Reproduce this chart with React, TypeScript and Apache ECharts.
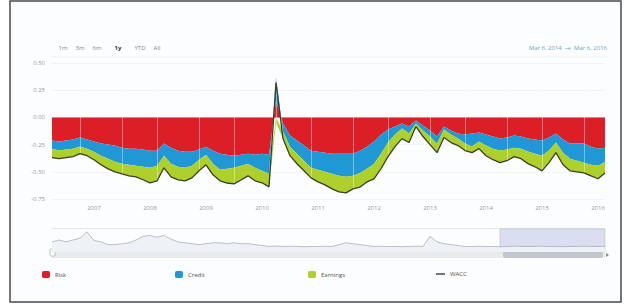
import React, { useEffect, useRef } from "react";
import * as echarts from "echarts";

const START_YEAR = 2006.25;
const STEP_YEARS = 0.125;
const rangeButtons = ["1m", "3m", "6m", "1y", "YTD", "All"];
const selectedButton = "1y";
const dateFrom = "Mar 6, 2014";
const dateTo = "Mar 6, 2016";
const selectionRange = [2014.3, 2016.1];

const risk = [
  -0.213, -0.222, -0.213, -0.204, -0.185, -0.204, -0.222, -0.241, -0.25, -0.259,
  -0.278, -0.287, -0.287, -0.296, -0.306, -0.306, -0.241, -0.278, -0.306, -0.315,
  -0.315, -0.296, -0.269, -0.306, -0.333, -0.343, -0.352, -0.343, -0.333, -0.343,
  -0.333, -0.343, 0.15, -0.056, -0.167, -0.213, -0.259, -0.306, -0.315, -0.324,
  -0.333, -0.333, -0.333, -0.333, -0.306, -0.269, -0.222, -0.157, -0.111, -0.083,
  -0.056, -0.083, -0.028, -0.074, -0.12, -0.176, -0.083, -0.12, -0.148, -0.157,
  -0.148, -0.139, -0.157, -0.176, -0.194, -0.185, -0.167, -0.176, -0.194, -0.204,
  -0.213, -0.185, -0.148, -0.204, -0.241, -0.241, -0.241, -0.269, -0.287, -0.278,
];
const credit = [
  -0.074, -0.083, -0.083, -0.083, -0.083, -0.083, -0.093, -0.111, -0.13, -0.148,
  -0.148, -0.148, -0.157, -0.157, -0.157, -0.139, -0.111, -0.148, -0.148, -0.148,
  -0.13, -0.093, -0.074, -0.12, -0.148, -0.13, -0.111, -0.102, -0.093, -0.12,
  -0.157, -0.176, 0.22, -0.074, -0.102, -0.12, -0.139, -0.157, -0.167, -0.176,
  -0.185, -0.204, -0.213, -0.204, -0.204, -0.204, -0.204, -0.176, -0.12, -0.074,
  -0.046, -0.065, -0.028, -0.046, -0.056, -0.065, -0.028, -0.037, -0.046, -0.083,
  -0.12, -0.083, -0.102, -0.111, -0.111, -0.111, -0.111, -0.111, -0.12, -0.13,
  -0.139, -0.12, -0.083, -0.12, -0.139, -0.157, -0.176, -0.167, -0.157, -0.13,
];
const earnings = [
  -0.083, -0.074, -0.074, -0.074, -0.065, -0.065, -0.074, -0.083, -0.093, -0.093,
  -0.093, -0.102, -0.102, -0.12, -0.139, -0.139, -0.111, -0.12, -0.12, -0.12,
  -0.111, -0.102, -0.093, -0.102, -0.102, -0.13, -0.148, -0.13, -0.111, -0.12,
  -0.111, -0.12, -0.05, -0.065, -0.083, -0.093, -0.093, -0.093, -0.111, -0.12,
  -0.139, -0.148, -0.148, -0.12, -0.13, -0.12, -0.139, -0.139, -0.13, -0.111,
  -0.093, -0.083, -0.028, -0.056, -0.074, -0.083, -0.074, -0.074, -0.065, -0.065,
  -0.056, -0.065, -0.093, -0.102, -0.111, -0.102, -0.083, -0.093, -0.111, -0.12,
  -0.139, -0.111, -0.093, -0.111, -0.111, -0.102, -0.093, -0.102, -0.12, -0.102,
];
const navigatorValues = [
  0.44, 0.52, 0.44, 0.52, 0.6, 0.88, 0.5, 0.44, 0.32, 0.32,
  0.36, 0.4, 0.52, 0.68, 0.72, 0.64, 0.72, 0.56, 0.44, 0.4,
  0.36, 0.32, 0.36, 0.4, 0.4, 0.36, 0.4, 0.36, 0.36, 0.32,
  0.28, 0.24, 0.26, 0.24, 0.25, 0.24, 0.23, 0.24, 0.24, 0.25,
  0.24, 0.32, 0.4, 0.36, 0.32, 0.28, 0.24, 0.25, 0.24, 0.24,
  0.23, 0.24, 0.25, 0.24, 0.68, 0.44, 0.36, 0.32, 0.28, 0.24,
  0.24, 0.25, 0.24, 0.24, 0.23, 0.24, 0.25, 0.24, 0.24, 0.24,
  0.25, 0.24, 0.24, 0.23, 0.24, 0.24, 0.25, 0.24, 0.24, 0.24,
];

const FONT = "Open Sans, Lato, sans-serif";
const COLORS = { risk: "#dc1f26", credit: "#1f98d5", earnings: "#add02c", wacc: "#3a3f2a" };

export default function App() {
  const ref = useRef<HTMLDivElement>(null);
  useEffect(() => {
    if (!ref.current) return;
    const chart = echarts.init(ref.current, undefined, { renderer: "svg" });
    const categories = risk.map((_, i) => (START_YEAR + i * STEP_YEARS).toFixed(3));
    const isYearStart = (v: string) => {
      const f = parseFloat(v);
      return Math.abs(f - Math.round(f)) < 1e-6;
    };
    const toIndex = (year: number) => (year - START_YEAR) / STEP_YEARS;
    const wacc = risk.map((v, i) => +(v + credit[i] + earnings[i]).toFixed(3));
    // light separators drawn over the areas
    const guides: number[] = [];
    for (let g = 4.4; g < risk.length - 1; g += 5.5) guides.push(Math.round(g));

    const legendBase = {
      top: 266,
      itemWidth: 8,
      itemHeight: 7,
      textStyle: { fontSize: 6, color: "#555", fontFamily: FONT },
      icon: "roundRect",
    };

    const graphic: any[] = [
      {
        type: "rect",
        z: -10,
        shape: { x: 10, y: 1, width: 611, height: 301 },
        style: { fill: "#fcfdfe", stroke: "#4a4a4a", lineWidth: 1.5 },
      },
      {
        type: "line",
        shape: { x1: 52, y1: 57, x2: 608, y2: 57 },
        style: { stroke: "#eef1f4", lineWidth: 1 },
      },
      {
        type: "line",
        shape: { x1: 52, y1: 228.5, x2: 605, y2: 228.5 },
        style: { stroke: "#e3e6ea", lineWidth: 1 },
      },
      {
        type: "rect",
        shape: { x: 52, y: 252, width: 553, height: 6 },
        style: { fill: "#e9eaec" },
      },
      {
        type: "rect",
        shape: { x: 503, y: 252, width: 100, height: 6, r: 2 },
        style: { fill: "#c3c6cf" },
      },
      {
        type: "rect",
        shape: { x: 50, y: 249, width: 5, height: 7, r: 1 },
        style: { fill: "#fff", stroke: "#aaa", lineWidth: 0.7 },
      },
      {
        type: "polygon",
        shape: { points: [[606, 253], [609, 255], [606, 257]] },
        style: { fill: "#888" },
      },
      {
        type: "text",
        x: 607,
        y: 48,
        style: {
          text: dateFrom + "  \u2192  " + dateTo,
          fill: "#6f9fd0",
          fontSize: 6,
          fontFamily: FONT,
          align: "right",
          verticalAlign: "middle",
        },
      },
    ];
    const btnX = [63, 80, 97, 118, 140, 157];
    rangeButtons.forEach((b, i) => {
      graphic.push({
        type: "text",
        x: btnX[i],
        y: 48,
        style: {
          text: b,
          fill: b === selectedButton ? "#333" : "#888",
          fontWeight: b === selectedButton ? "bold" : "normal",
          fontSize: 6,
          fontFamily: FONT,
          align: "center",
          verticalAlign: "middle",
        },
      });
    });

    chart.setOption({
      animation: false,
      backgroundColor: "#ffffff",
      textStyle: { fontFamily: FONT },
      grid: [
        { left: 52, right: 25, top: 63, height: 136 },
        { left: 52, right: 25, top: 229, height: 23 },
      ],
      xAxis: [
        {
          type: "category",
          gridIndex: 0,
          data: categories,
          boundaryGap: false,
          axisLine: { show: true, lineStyle: { color: "#e4e6ea" } },
          axisTick: { show: false },
          splitLine: { show: false },
          axisLabel: {
            interval: (_: number, v: string) => isYearStart(v),
            formatter: (v: string) => String(Math.round(parseFloat(v))),
            fontSize: 6,
            color: "#999",
            margin: 6,
          },
        },
        {
          type: "category",
          gridIndex: 1,
          data: categories,
          boundaryGap: false,
          show: false,
        },
      ],
      yAxis: [
        {
          type: "value",
          gridIndex: 0,
          min: -0.75,
          max: 0.5,
          interval: 0.25,
          axisLine: { show: false },
          axisTick: { show: false },
          splitLine: { show: true, lineStyle: { color: "#f2f3f5", width: 1 } },
          axisLabel: {
            formatter: (v: number) => v.toFixed(2),
            fontSize: 6,
            color: "#999",
            margin: 7,
          },
        },
        { type: "value", gridIndex: 1, min: 0, max: 1, show: false },
      ],
      legend: [
        { ...legendBase, left: 37, data: ["Risk"] },
        { ...legendBase, left: 170, data: ["Credit"] },
        { ...legendBase, left: 303, data: ["Earnings"] },
        {
          ...legendBase,
          left: 431,
          data: ["WACC"],
          icon: "path://M0,0 L10,0 L10,2 L0,2 Z",
          itemWidth: 9,
          itemHeight: 2,
        },
      ],
      series: [
        {
          name: "Risk",
          type: "line",
          stack: "total",
          data: risk,
          symbol: "none",
          lineStyle: { width: 0 },
          areaStyle: { color: COLORS.risk, opacity: 1 },
          itemStyle: { color: COLORS.risk },
        },
        {
          name: "Credit",
          type: "line",
          stack: "total",
          data: credit,
          symbol: "none",
          lineStyle: { width: 0 },
          areaStyle: { color: COLORS.credit, opacity: 1 },
          itemStyle: { color: COLORS.credit },
        },
        {
          name: "Earnings",
          type: "line",
          stack: "total",
          data: earnings,
          symbol: "none",
          lineStyle: { width: 0 },
          areaStyle: { color: COLORS.earnings, opacity: 1 },
          itemStyle: { color: COLORS.earnings },
        },
        {
          name: "WACC",
          type: "line",
          data: wacc,
          symbol: "none",
          z: 5,
          lineStyle: { width: 1.3, color: COLORS.wacc },
          itemStyle: { color: "#666" },
          markLine: {
            silent: true,
            symbol: "none",
            label: { show: false },
            lineStyle: { color: "#ffffff", width: 1, type: "solid", opacity: 0.4 },
            data: guides.map((g) => ({ xAxis: g })),
          },
        },
        {
          name: "Navigator",
          type: "line",
          xAxisIndex: 1,
          yAxisIndex: 1,
          data: navigatorValues,
          symbol: "none",
          lineStyle: { width: 0.7, color: "#a2a7ae" },
          areaStyle: { color: "#eef1f5", opacity: 1 },
          markArea: {
            silent: true,
            itemStyle: {
              color: "rgba(150,158,210,0.32)",
              borderColor: "#b8bccc",
              borderWidth: 0.6,
            },
            data: [[{ xAxis: toIndex(selectionRange[0]) }, { xAxis: toIndex(selectionRange[1]) }]],
          },
        },
      ],
      graphic,
    });
    return () => chart.dispose();
  }, []);
  return (
    <div
      ref={ref}
      style={{ position: "fixed", left: 0, top: 0, width: 630, height: 304 }}
    />
  );
}
